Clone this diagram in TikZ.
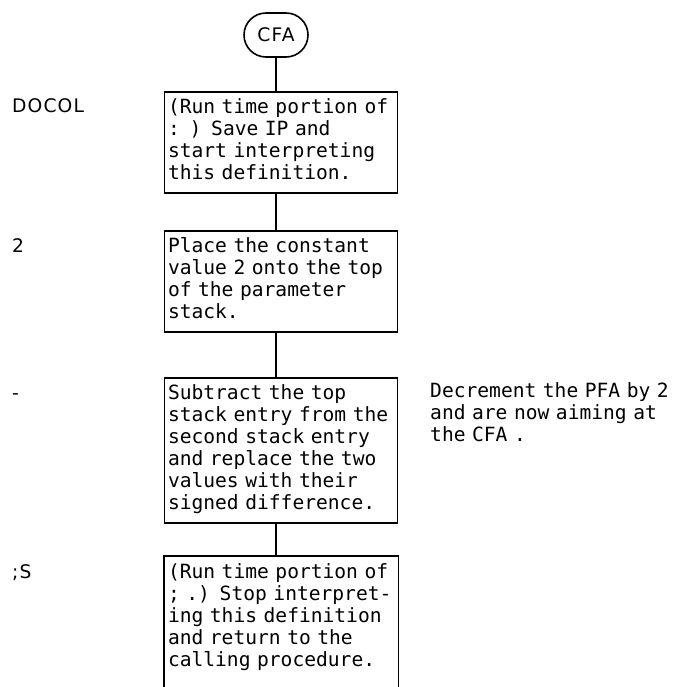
\documentclass[tikz,border=0pt]{standalone}
\usepackage{fontspec}
\setmonofont{DejaVu Sans Mono}
\setsansfont{DejaVu Sans}
\usetikzlibrary{shapes.misc}

\newcommand{\flowfont}{\ttfamily\fontsize{19.6}{22}\selectfont}
\newcommand{\namefont}{\sffamily\fontsize{18.7}{22}\selectfont\addfontfeatures{LetterSpace=6}}

\begin{document}
\begin{tikzpicture}[x=1pt, y=-1pt,
    stepbox/.style={draw, line width=1.6pt, anchor=north, text width=226pt,
      align=left, inner xsep=3.5pt, inner ysep=6.5pt, font=\flowfont,
      execute at begin node=\strut, execute at end node=\strut},
    openbox/.style={stepbox, draw=none},
    wordlbl/.style={anchor=base west, inner sep=0pt, font=\namefont},
    notetxt/.style={anchor=north west, text width=260pt, align=left,
      inner xsep=0pt, inner ysep=5pt, font=\flowfont,
      execute at begin node=\strut, execute at end node=\strut},
    link/.style={line width=1.6pt}]
  \useasboundingbox (0,0) rectangle (682,687);
  % entry point
  \node[draw, line width=1.6pt, rounded rectangle, minimum width=68pt,
        minimum height=44pt, inner sep=2pt, font=\namefont] (cfa) at (276,35) {CFA};
  % the four steps
  \node[stepbox] (box1) at (281,91)
    {(Run time portion of\\: ) Save IP and\\start interpreting\\this definition.};
  \node[stepbox] (box2) at (281,230)
    {Place the constant\\value 2 onto the top\\of the parameter\\stack.};
  \node[stepbox] (box3) at (281,377)
    {Subtract the top\\stack entry from the\\second stack entry\\and replace the two\\values with their\\signed difference.};
  \node[openbox] (box4) at (281,556)
    {(Run time portion of\\; .) Stop interpret-\\ing this definition\\and return to the\\calling procedure.};
  \coordinate (bottom) at (0,690);
  \draw[link] (box4.north west |- bottom) -- (box4.north west)
    -- (box4.north east) -- (box4.north east |- bottom);
  % connectors
  \draw[link] (cfa) -- (cfa |- box1.north);
  \foreach \a/\b in {box1/box2, box2/box3, box3/box4}
    \draw[link] (\a.south -| cfa) -- (\b.north -| cfa);
  % word names on the left
  \foreach \y/\lbl/\nm in {113/DOCOL/ldocol, 252/2/ltwo, 399/-/lminus, 578/{;S}/lsemi}
    \node[wordlbl] (\nm) at (12,\y) {\lbl};
  % side note
  \node[notetxt] (note) at (430,377)
    {Decrement the PFA by 2\\and are now aiming at\\the CFA .};
\end{tikzpicture}
\end{document}
